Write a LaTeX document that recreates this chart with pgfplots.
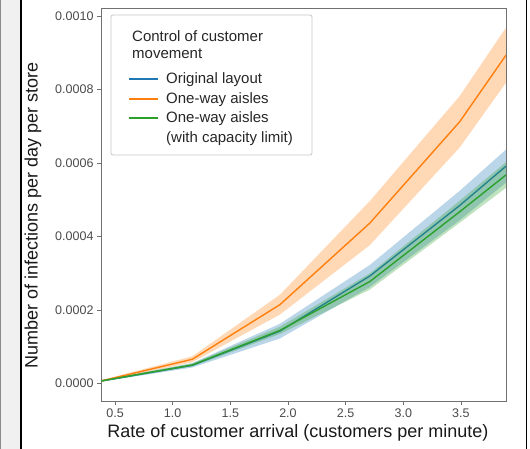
\documentclass[border=0pt]{standalone}
\usepackage{fontspec}
\setmainfont{Liberation Sans}
\usepackage{pgfplots}
\usepackage{pgfplotstable}
\pgfplotsset{compat=1.18}
\definecolor{tblue}{HTML}{1F77B4}
\definecolor{torange}{HTML}{FF7F0E}
\definecolor{tgreen}{HTML}{2CA02C}
\definecolor{axgray}{HTML}{707070}
\definecolor{lblgray}{HTML}{4A4A4A}

% mean curves
\pgfplotstableread{
x      orange     blue       green
0.3783 7.3e-6     7.3e-6     7.3e-6
1.17   6.64e-5    5.00e-5    5.10e-5
1.93   2.15e-4    1.43e-4    1.45e-4
2.71   4.37e-4    2.93e-4    2.78e-4
3.49   7.13e-4    4.85e-4    4.68e-4
3.891  8.94e-4    5.92e-4    5.68e-4
}\means

% uncertainty bands: upper edge forward, lower edge back
\pgfplotstableread{
x      orange     blue       green
0.3783 9.3e-6     9.3e-6     9.3e-6
1.17   7.44e-5    5.60e-5    5.50e-5
1.93   2.42e-4    1.63e-4    1.55e-4
2.71   4.97e-4    3.23e-4    3.00e-4
3.49   7.83e-4    5.25e-4    4.98e-4
3.891  9.69e-4    6.37e-4    6.03e-4
3.891  8.19e-4    5.47e-4    5.33e-4
3.49   6.43e-4    4.45e-4    4.38e-4
2.71   3.77e-4    2.63e-4    2.56e-4
1.93   1.88e-4    1.23e-4    1.35e-4
1.17   5.84e-5    4.40e-5    4.70e-5
0.3783 5.3e-6     5.3e-6     5.3e-6
}\bands

\begin{document}
\begin{tikzpicture}
\useasboundingbox (0,0) rectangle (530pt,449pt);
% screenshot frame
\fill[black!6] (0,0) rectangle (20pt,449pt);
\draw[black!45, line width=1pt] (0.5pt,0) -- (0.5pt,449pt);
\draw[black, line width=1.6pt] (21pt,0) -- (21pt,449pt);
\draw[black, line width=1.6pt] (526.5pt,0) -- (526.5pt,449pt);
\begin{axis}[
  at={(101pt,48pt)}, anchor=south west,
  scale only axis, width=405pt, height=393pt,
  xmin=0.3783, xmax=3.891,
  ymin=-0.0000471, ymax=0.0010223,
  xtick={0.5,1.0,...,3.5},
  ytick={0,0.0002,0.0004,0.0006,0.0008,0.001},
  scaled y ticks=false,
  xticklabel style={/pgf/number format/.cd, fixed, fixed zerofill, precision=1},
  yticklabel style={/pgf/number format/.cd, fixed, fixed zerofill, precision=4},
  /pgf/number format/assume math mode=true,
  tick label style={font=\fontsize{12.5}{15}\selectfont, text=lblgray},
  tick align=outside, major tick length=4pt,
  xtick pos=lower, ytick pos=left,
  tick style={axgray, line width=0.8pt},
  axis line style={axgray, line width=0.8pt},
  label style={font=\fontsize{18}{21}\selectfont, text=black!90},
  xlabel={Rate of customer arrival (customers per minute)},
  ylabel={Number of infections per day per store},
  xlabel style={at={(axis description cs:0.486,-0.082)}, anchor=center},
  ylabel style={at={(axis description cs:-0.168,0.473)}, anchor=center},
  legend style={at={(rel axis cs:0.0667,0.835)}, anchor=north west,
    draw=none, fill=none, inner sep=0pt,
    font=\fontsize{15}{18}\selectfont, text=black!85,
    cells={anchor=west},
    nodes={inner xsep=2pt, inner ysep=0pt}, row sep=7pt,
    /tikz/every odd column/.append style={column sep=5pt}},
  legend image code/.code={\draw[#1, line width=2pt] (0pt,0pt) -- (29pt,0pt);},
]
\addplot[fill=tblue, fill opacity=0.3, draw=none, forget plot] table[x=x,y=blue]{\bands};
\addplot[tblue, line width=1.4pt] table[x=x,y=blue]{\means};
\addlegendentry{Original layout}

\addplot[fill=torange, fill opacity=0.3, draw=none, forget plot] table[x=x,y=orange]{\bands};
\addplot[torange, line width=1.4pt] table[x=x,y=orange]{\means};
\addlegendentry{One-way aisles}

\addplot[fill=tgreen, fill opacity=0.3, draw=none, forget plot] table[x=x,y=green]{\bands};
\addplot[tgreen, line width=1.4pt] table[x=x,y=green]{\means};
\addlegendentry{One-way aisles}

\addlegendimage{empty legend}
\addlegendentry{(with capacity limit)}
\end{axis}
% legend frame and title
\draw[black!22, line width=0.8pt, rounded corners=2pt] (111pt,294pt) rectangle (312pt,434pt);
\node[anchor=base west, inner sep=0pt, font=\fontsize{15}{18}\selectfont, text=black!85] at (132pt,407pt) {Control of customer};
\node[anchor=base west, inner sep=0pt, font=\fontsize{15}{18}\selectfont, text=black!85] at (132pt,390pt) {movement};
\end{tikzpicture}
\end{document}
